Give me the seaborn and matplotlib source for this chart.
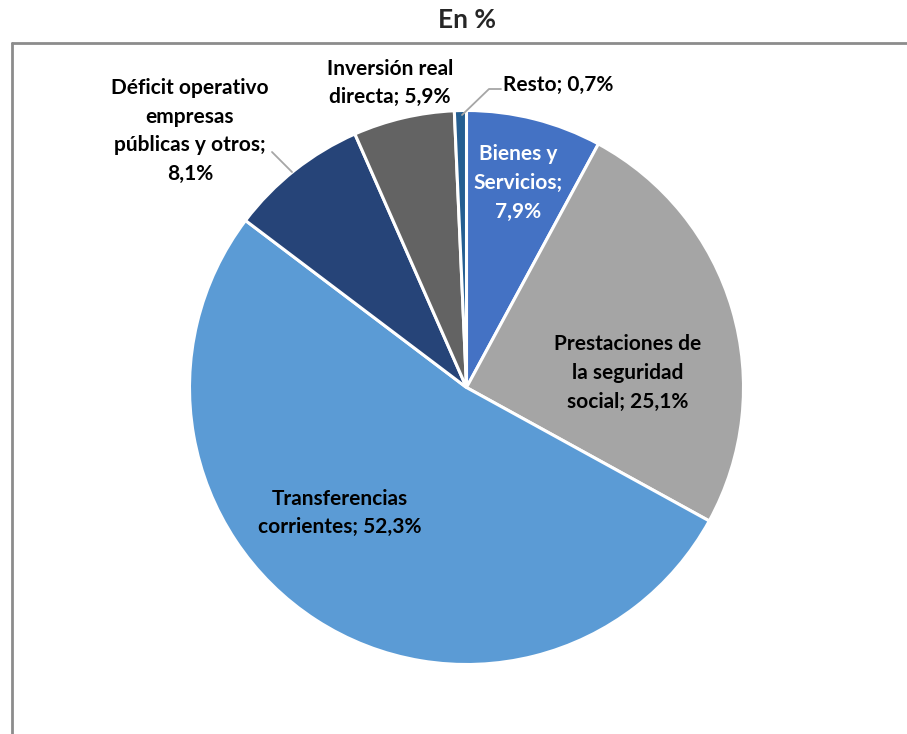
import numpy as np
import pandas as pd
import matplotlib
matplotlib.use("Agg")
import matplotlib.pyplot as plt
import seaborn as sns

# data (clockwise from 12 o'clock)
categorias = ["Bienes y Servicios", "Prestaciones de la seguridad social",
              "Transferencias corrientes", "Déficit operativo empresas públicas y otros",
              "Inversión real directa", "Resto"]
porcentajes = [7.9, 25.1, 52.3, 8.1, 5.9, 0.7]
etiquetas = ["Bienes y\nServicios;\n7,9%",
             "Prestaciones de\nla seguridad\nsocial; 25,1%",
             "Transferencias\ncorrientes; 52,3%",
             "Déficit operativo\nempresas\npúblicas y otros;\n8,1%",
             "Inversión real\ndirecta; 5,9%",
             "Resto; 0,7%"]
colores = ["#4472C4", "#A5A5A5", "#5B9BD5", "#264478", "#636363", "#255E91"]

sns.set_theme(style="white")
plt.rcParams["font.family"] = ["Lato", "DejaVu Sans"]

df = pd.DataFrame({"cat": categorias, "pct": porcentajes})

W, H = 907, 734
fig = plt.figure(figsize=(W / 100, H / 100), dpi=100)

# pie centre / radius in pixels
cx, cy, r = 466.5, 387.5, 277
ax = fig.add_axes([(cx - r) / W, (H - cy - r) / H, 2 * r / W, 2 * r / H])
ax.pie(df["pct"], colors=colores, startangle=90, counterclock=False,
       radius=1, wedgeprops=dict(edgecolor="white", linewidth=2.2))
ax.set_xlim(-1, 1)
ax.set_ylim(-1, 1)
ax.set_aspect("equal")
ax.axis("off")

def px(x, y):
    return ((x - cx) / r, (cy - y) / r)

# label placement (pixel coords of label centres)
pos = [(518, 183), (628, 373), (340, 513), (190, 131), (390, 83), (503, 85)]
col_txt = ["white", "black", "black", "black", "black", "black"]
for i, (lab, p) in enumerate(zip(etiquetas, pos)):
    ha = "left" if i == 5 else "center"
    ax.text(*px(*p), lab, ha=ha, va="center", fontsize=15, fontweight="bold",
            color=col_txt[i], linespacing=1.55, clip_on=False)

# leader lines
for pts in [[(272, 152), (292, 172)], [(501, 89), (489, 89), (462, 115)]]:
    xs, ys = zip(*[px(*q) for q in pts])
    ax.plot(xs, ys, color="#A6A6A6", lw=1.3, clip_on=False)

# chart frame (partially cropped in the reference)
fig.add_artist(plt.Line2D([12 / W, 12 / W], [0, 1 - 43 / H], color="#8C8C8C", lw=2))
fig.add_artist(plt.Line2D([12 / W, 1], [1 - 43 / H, 1 - 43 / H], color="#8C8C8C", lw=2))

fig.text(cx / W, 1 - 20 / H, "En %", ha="center", va="center",
         fontsize=19, fontweight="bold")

fig.savefig("out.png", dpi=100)
